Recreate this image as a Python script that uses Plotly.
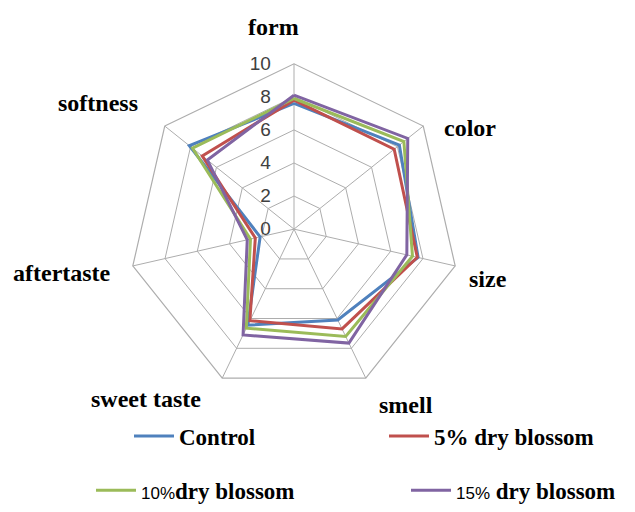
import plotly.graph_objects as go

# ---- data ----
categories = ["form", "color", "size", "smell", "sweet taste", "aftertaste", "softness"]
control = [7.6, 8.15, 7.7, 6.1, 6.45, 2.1, 8.1]
dry5 = [7.8, 7.75, 7.65, 6.7, 6.15, 2.4, 7.1]
dry10 = [7.9, 8.5, 7.35, 7.2, 6.65, 2.7, 7.85]
dry15 = [8.1, 8.8, 7.0, 7.65, 7.1, 2.9, 6.7]
series_names = [
    "<b>Control</b>",
    "<b>5% dry blossom</b>",
    "<span style='font-family:Liberation Sans;font-size:17px'>10%</span><b>dry blossom</b>",
    "<span style='font-family:Liberation Sans;font-size:17px'>15%</span> <b>dry blossom</b>",
]
radial_ticks = [0, 2, 4, 6, 8, 10]

# ---- styles / layout ----
OFF = 8  # page body margin
W, H = 635 - OFF, 512 - OFF
colors = ["#4F81BD", "#C0504D", "#9BBB59", "#8064A2"]
grid = "#ADADAD"
cx, cy, R = 294 - OFF, 232.7 - OFF, 168
label_pos = {  # pixel centres of category labels (screen coords)
    "form": (273, 27), "color": (470, 130), "size": (488, 283), "smell": (406, 411),
    "sweet taste": (146, 405), "aftertaste": (62, 277), "softness": (98, 105),
}
legend_pos = [(129, 443), (384, 443), (91, 498), (406, 498)]

fig = go.Figure()
all_series = [control, dry5, dry10, dry15]
for i, (vals, name) in enumerate(zip(all_series, series_names)):
    fig.add_trace(go.Scatterpolar(
        r=vals + vals[:1], theta=categories + categories[:1], mode="lines",
        name=name, line=dict(color=colors[i], width=3),
        legend="legend" if i == 0 else f"legend{i+1}",
    ))

legend_common = dict(orientation="h", xanchor="left", yanchor="middle",
                     bgcolor="rgba(0,0,0,0)", borderwidth=0,
                     font=dict(family="Liberation Serif", size=23, color="#000"),
                     itemwidth=40, tracegroupgap=0)
legends = {}
for i, (lx, ly) in enumerate(legend_pos):
    key = "legend" if i == 0 else f"legend{i+1}"
    legends[key] = dict(legend_common, x=(lx - OFF) / W, y=1 - (ly - OFF) / H)

annotations = []
for cat in categories:
    px, py = label_pos[cat]
    annotations.append(dict(text=f"<b>{cat}</b>", x=(px - OFF) / W, y=1 - (py - OFF) / H,
                            xref="paper", yref="paper",
                            xanchor="center", yanchor="middle", showarrow=False,
                            font=dict(family="Liberation Serif", size=24, color="#000")))

fig.update_layout(
    width=W, height=H, margin=dict(l=0, r=0, t=0, b=0),
    paper_bgcolor="white", plot_bgcolor="white",
    showlegend=True,
    polar=dict(
        domain=dict(x=[(cx - R) / W, (cx + R) / W], y=[1 - (cy + R) / H, 1 - (cy - R) / H]),
        bgcolor="white", gridshape="linear",
        angularaxis=dict(direction="clockwise", rotation=90, showticklabels=False, ticks="",
                         showline=True, linecolor=grid, linewidth=1.2,
                         showgrid=True, gridcolor=grid, gridwidth=1.2),
        radialaxis=dict(range=[0, 10], tickvals=radial_ticks, ticktext=[str(t) for t in radial_ticks],
                        angle=90, tickangle=90, side="counterclockwise", showline=False,
                        ticks="outside", ticklen=16, tickcolor="rgba(0,0,0,0)",
                        showgrid=True, gridcolor=grid, gridwidth=1.2,
                        tickfont=dict(family="Liberation Sans", size=19, color="#404040")),
    ),
    annotations=annotations,
    **legends,
)
fig.write_html("out.html")
